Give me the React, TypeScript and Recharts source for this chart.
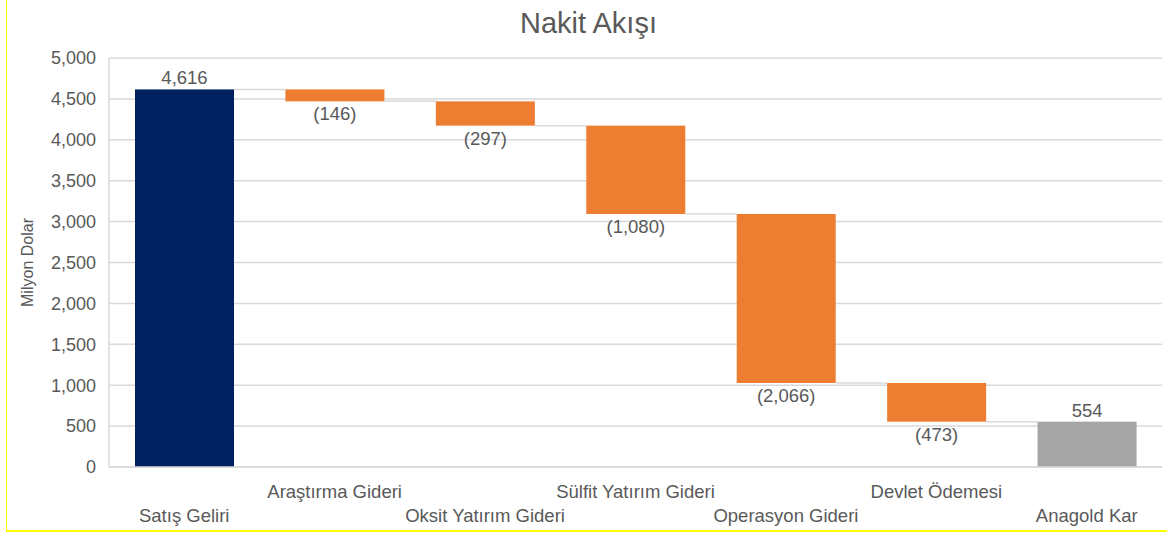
import React from "react"
import { BarChart, Bar, XAxis, YAxis, CartesianGrid, LabelList } from "recharts"

const categories = [
  "Satış Geliri",
  "Araştırma Gideri",
  "Oksit Yatırım Gideri",
  "Sülfit Yatırım Gideri",
  "Operasyon Gideri",
  "Devlet Ödemesi",
  "Anagold Kar",
]
const values = [4616, -146, -297, -1080, -2066, -473, 554]
const kinds = ["start", "step", "step", "step", "step", "step", "total"]
const yTicks = [0, 500, 1000, 1500, 2000, 2500, 3000, 3500, 4000, 4500, 5000]

const colors: Record<string, string> = { start: "#002060", step: "#ED7D31", total: "#A5A5A5" }
const textColor = "#595959"
const gridColor = "#D9D9D9"
const font = "'Liberation Sans', Arial, sans-serif"

const W = 1167
const H = 534
const M = { top: 58, right: 5, bottom: 0, left: 0 }
const Y_W = 109
const BAR = 99
const BAND = (W - M.left - M.right - Y_W) / categories.length
const GAP = BAND - BAR

// stacked waterfall: invisible base + visible delta
let running = 0
const data = categories.map((name, i) => {
  const v = values[i]
  if (kinds[i] !== "step") {
    running = v
    return { name, base: 0, delta: v }
  }
  running += v
  return { name, base: running, delta: -v }
})

const fmt = (v: number) => {
  const s = Math.abs(v).toLocaleString("en-US")
  return v < 0 ? `(${s})` : s
}

const WaterfallBar = (props: any) => {
  const { x, y, width, height, index } = props
  const level = values[index] < 0 ? y + height : y
  const hasNext = index < categories.length - 1
  return (
    <g>
      <rect x={x} y={y} width={width} height={height} fill={colors[kinds[index]]} />
      {hasNext && (
        <line x1={x + width} x2={x + width + GAP} y1={level} y2={level} stroke={gridColor} strokeWidth={1.5} />
      )}
    </g>
  )
}

const ValueLabel = (props: any) => {
  const { x, y, width, height, index } = props
  const v = values[index]
  const ty = v < 0 ? y + height + 19 : y - 5
  return (
    <text x={x + width / 2} y={ty} textAnchor="middle" fill={textColor} fontSize={18.5} fontFamily={font}>
      {fmt(v)}
    </text>
  )
}

const CategoryTick = (props: any) => {
  const { x, y, payload, index } = props
  const dy = index % 2 === 1 ? 31 : 55
  return (
    <text x={x} y={y + dy} textAnchor="middle" fill={textColor} fontSize={18.5} fontFamily={font}>
      {payload.value}
    </text>
  )
}

export default function App() {
  return (
    <div style={{ position: "absolute", left: 0, top: 0, width: W, height: H, background: "#fff", fontFamily: font }}>
      <div
        style={{
          position: "absolute",
          left: 6,
          top: 0,
          width: W - 6,
          height: 530,
          borderLeft: "1px solid #FFFF00",
          borderBottom: "2px solid #FFFF00",
        }}
      />
      <div
        style={{
          position: "absolute",
          left: 10,
          width: W - 10,
          top: 5,
          textAlign: "center",
          fontSize: 29,
          color: textColor,
          lineHeight: "36px",
        }}
      >
        Nakit Akışı
      </div>
      <div style={{ position: "absolute", left: 0, top: 0 }}>
        <BarChart width={W} height={H} data={data} margin={M} barSize={BAR}>
          <CartesianGrid vertical={false} stroke={gridColor} strokeWidth={1.5} />
          <XAxis
            dataKey="name"
            height={67}
            interval={0}
            tickLine={false}
            tickSize={0}
            tickMargin={0}
            axisLine={{ stroke: gridColor, strokeWidth: 1.5 }}
            tick={<CategoryTick />}
          />
          <YAxis
            width={Y_W}
            domain={[0, 5000]}
            ticks={yTicks}
            interval={0}
            tickLine={false}
            tickSize={0}
            tickMargin={13}
            axisLine={{ stroke: gridColor, strokeWidth: 1.5 }}
            tickFormatter={(v: number) => v.toLocaleString("en-US")}
            tick={{ fill: textColor, fontSize: 18, fontFamily: font }}
            label={{
              value: "Milyon Dolar",
              angle: -90,
              position: "center",
              dx: -27,
              fill: textColor,
              fontSize: 16,
              fontFamily: font,
            }}
          />
          <Bar dataKey="base" stackId="w" fill="transparent" isAnimationActive={false} />
          <Bar dataKey="delta" stackId="w" shape={<WaterfallBar />} isAnimationActive={false}>
            <LabelList dataKey="delta" content={<ValueLabel />} />
          </Bar>
        </BarChart>
      </div>
    </div>
  )
}
